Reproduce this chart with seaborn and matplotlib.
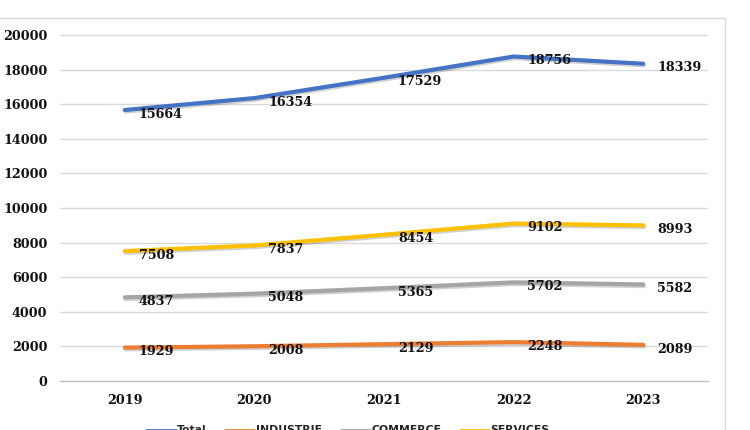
import matplotlib
matplotlib.use("Agg")
import matplotlib.pyplot as plt
import matplotlib.patheffects as pe
from matplotlib.patches import Rectangle
from matplotlib.lines import Line2D
import seaborn as sns
import pandas as pd

years = ["2019", "2020", "2021", "2022", "2023"]
total = [15664, 16354, 17529, 18756, 18339]
industrie = [1929, 2008, 2129, 2248, 2089]
commerce = [4837, 5048, 5365, 5702, 5582]
services = [7508, 7837, 8454, 9102, 8993]
series_names = ["Total", "INDUSTRIE", "COMMERCE", "SERVICES"]
colors = ["#4472C4", "#ED7D31", "#A5A5A5", "#FFC000"]
y_ticks = [0, 2000, 4000, 6000, 8000, 10000, 12000, 14000, 16000, 18000, 20000]

series_values = [total, industrie, commerce, services]
rows = []
for name, vals in zip(series_names, series_values):
    for yr, v in zip(years, vals):
        rows.append({"year": yr, "value": v, "series": name})
df = pd.DataFrame(rows)

sns.set_theme(style="white")
plt.rcParams["font.family"] = ["DejaVu Serif"]

fig = plt.figure(figsize=(7.5, 4.3), dpi=100)
ax = fig.add_axes([60/750, 1-381/430, 648/750, 346/430])

# outer chart border
fig.patches.append(Rectangle((-0.01, -0.05), 725/750 + 0.01, 1 - 18/430 + 0.05,
                             transform=fig.transFigure, fill=False,
                             edgecolor="#d9d9d9", linewidth=1, zorder=0))

sns.lineplot(data=df, x="year", y="value", hue="series", hue_order=series_names,
             palette=colors, linewidth=3, sort=False, ax=ax, legend=False)
for line in ax.lines:
    line.set_solid_capstyle("round")
    line.set_path_effects([pe.SimpleLineShadow(offset=(0.6, -1.2), alpha=0.18, shadow_color="black"),
                           pe.Normal()])

for vals in series_values:
    for i, v in enumerate(vals):
        ax.annotate(f"{v}", xy=(i, v), xytext=(10, -3), textcoords="offset points",
                    ha="left", va="center", fontsize=9.2, fontweight="bold",
                    family="DejaVu Serif", color="#111111")

ax.set_xlim(-0.5, 4.5)
ax.set_ylim(0, 20000)
ax.set_yticks(y_ticks)
ax.set_yticklabels([str(t) for t in y_ticks])
ax.yaxis.grid(True, color="#d9d9d9", linewidth=1)
ax.xaxis.grid(False)
for s in ["top", "right", "left"]:
    ax.spines[s].set_visible(False)
ax.spines["bottom"].set_color("#bfbfbf")
ax.spines["bottom"].set_linewidth(1)
ax.tick_params(axis="both", length=0)
ax.tick_params(axis="y", pad=9)
ax.tick_params(axis="x", pad=9)
for lab in ax.get_xticklabels() + ax.get_yticklabels():
    lab.set_fontsize(9.2)
    lab.set_fontweight("bold")
    lab.set_color("#111111")
ax.set_xlabel("")
ax.set_ylabel("")

handles = [Line2D([0], [0], color=c, linewidth=2) for c in colors]
fig.legend(handles, series_names, loc="center", bbox_to_anchor=(0.464, -0.001),
           ncol=4, frameon=False, handlelength=2.7, handletextpad=0.15,
           columnspacing=1.7, prop={"family": "DejaVu Sans", "weight": "bold", "size": 7.8})

fig.savefig("out.png", dpi=100)
